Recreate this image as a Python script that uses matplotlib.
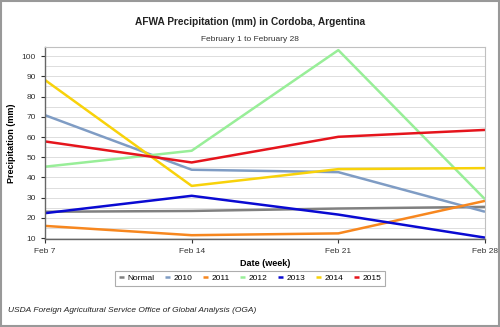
import matplotlib
matplotlib.use('Agg')
import matplotlib.pyplot as plt
from matplotlib.ticker import MultipleLocator

plt.rcParams['font.family'] = ['Liberation Sans', 'DejaVu Sans']

dates = ['Feb 7', 'Feb 14', 'Feb 21', 'Feb 28']
years = ['Normal', '2010', '2011', '2012', '2013', '2014', '2015']
normal = [23.0, 23.4, 24.6, 25.4]
y2010 = [70.8, 43.8, 42.6, 23.0]
y2011 = [16.0, 11.4, 12.3, 28.4]
y2012 = [45.3, 53.2, 103.0, 29.2]
y2013 = [22.3, 30.9, 21.6, 10.2]
y2014 = [88.2, 35.8, 44.1, 44.6]
y2015 = [57.8, 47.4, 60.1, 63.5]
series = [normal, y2010, y2011, y2012, y2013, y2014, y2015]
colors = ['#808080', '#7f9cc4', '#f7871f', '#98ee98', '#0a0ad2', '#f8d20a', '#e5141c']

fig = plt.figure(figsize=(5, 3.27), dpi=100)
ax = fig.add_axes([0.09, 0.269, 0.88, 0.587])

x = list(range(len(dates)))
for name, vals, c in zip(years, series, colors):
    ax.plot(x, vals, color=c, linewidth=1.8, label=name, solid_capstyle='butt')

ax.set_xlim(0, 3)
ax.set_ylim(9.5, 104.5)
ax.set_xticks(x)
ax.set_xticklabels(dates, fontsize=6)
ax.yaxis.set_major_locator(MultipleLocator(10))
ax.yaxis.set_minor_locator(MultipleLocator(5))
ax.set_yticks(range(10, 101, 10))
ax.tick_params(axis='y', labelsize=6, length=3, width=0.8, colors='#333333')
ax.tick_params(axis='x', length=3, width=0.8, colors='#333333')
ax.tick_params(which='minor', length=0)
ax.grid(True, which='both', axis='y', color='#d8d8d8', linewidth=0.6)
ax.set_axisbelow(True)
for s in ['top', 'right']:
    ax.spines[s].set_color('#c0c0c0')
for s in ['left', 'bottom']:
    ax.spines[s].set_color('#666666')
    ax.spines[s].set_linewidth(1.0)

ax.set_ylabel('Precipitation (mm)', fontsize=6.5, fontweight='bold', labelpad=4)
ax.set_xlabel('Date (week)', fontsize=6.5, fontweight='bold', labelpad=3)

fig.text(0.5, 0.925, 'AFWA Precipitation (mm) in Cordoba, Argentina', ha='center',
         fontsize=7.3, fontweight='bold', color='#222222')
fig.text(0.5, 0.875, 'February 1 to February 28', ha='center', fontsize=6, color='#333333')

leg = ax.legend(loc='center', bbox_to_anchor=(0.466, -0.205), ncol=7, fontsize=6,
                handlelength=0.6, handletextpad=0.4, columnspacing=1.3,
                frameon=True, fancybox=False, edgecolor='#999999',
                borderpad=0.45, handleheight=0.5)
leg.get_frame().set_linewidth(0.8)

fig.text(0.016, 0.045, 'USDA Foreign Agricultural Service Office of Global Analysis (OGA)',
         fontsize=6, style='italic', color='#222222')

fig.patches.append(plt.Rectangle((0.002, 0.004), 0.996, 0.992, transform=fig.transFigure,
                                 fill=False, edgecolor='#999999', linewidth=1.5))

fig.savefig('out.png', dpi=100)
